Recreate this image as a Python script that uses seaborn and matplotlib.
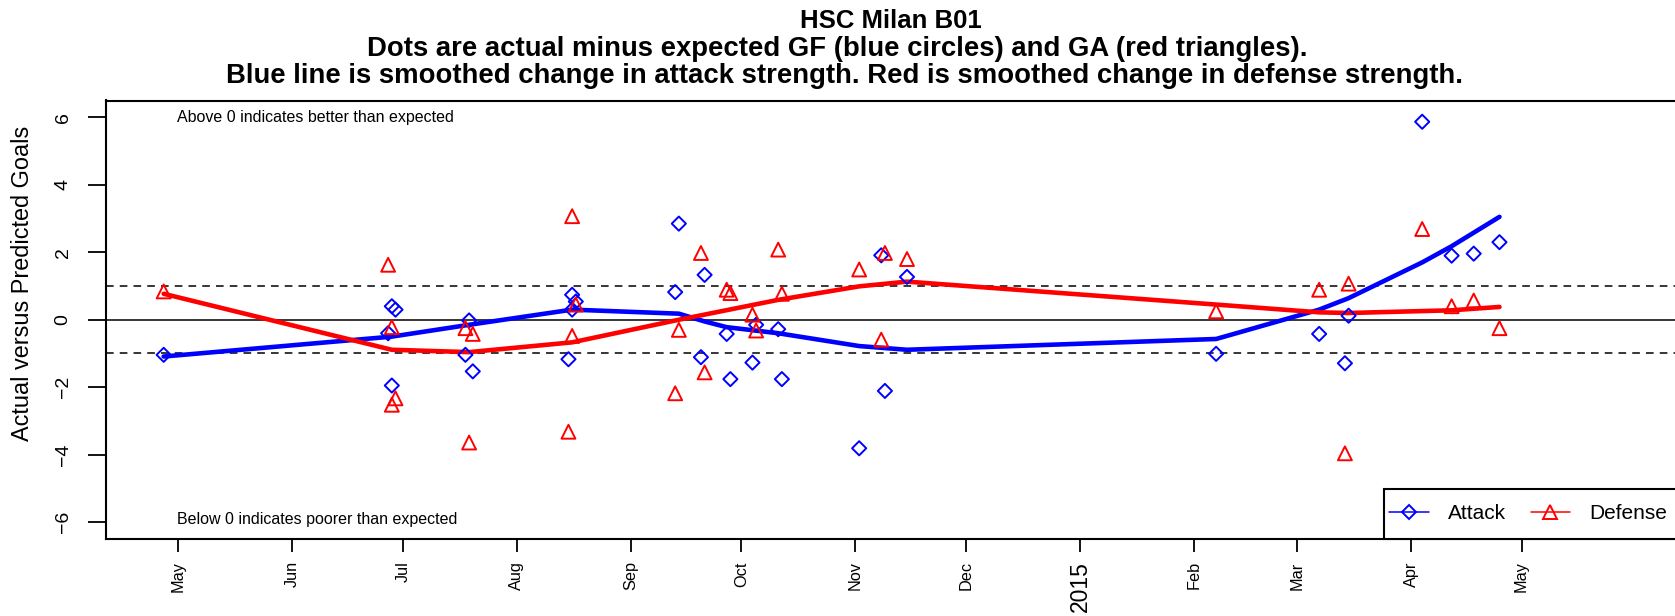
import pandas as pd
import seaborn as sns
import matplotlib.pyplot as plt
from matplotlib.lines import Line2D
from matplotlib.patches import Rectangle

# actual minus expected goals for (attack) and against (defense), per game
attack_dates = ["2014-04-27", "2014-06-28", "2014-06-29", "2014-06-27", "2014-06-28",
                "2014-07-19", "2014-07-18", "2014-07-20", "2014-08-16", "2014-08-17",
                "2014-08-16", "2014-08-15", "2014-09-14", "2014-09-13", "2014-09-21",
                "2014-09-20", "2014-09-27", "2014-09-28", "2014-10-05", "2014-10-04",
                "2014-10-11", "2014-10-12", "2014-11-02", "2014-11-08", "2014-11-09",
                "2014-11-15", "2015-02-07", "2015-03-07", "2015-03-15", "2015-03-14",
                "2015-04-04", "2015-04-12", "2015-04-18", "2015-04-25"]
attack_vals = [-1.04, 0.40, 0.30, -0.40, -1.95,
               -0.02, -1.04, -1.53, 0.74, 0.54,
               0.30, -1.17, 2.85, 0.82, 1.33,
               -1.11, -0.42, -1.76, -0.15, -1.27,
               -0.28, -1.76, -3.81, 1.91, -2.11,
               1.27, -1.01, -0.42, 0.12, -1.29,
               5.87, 1.90, 1.96, 2.30]

defense_dates = ["2014-04-27", "2014-06-27", "2014-06-28", "2014-06-29", "2014-06-28",
                 "2014-07-18", "2014-07-20", "2014-07-19", "2014-08-16", "2014-08-17",
                 "2014-08-16", "2014-08-15", "2014-09-14", "2014-09-13", "2014-09-20",
                 "2014-09-21", "2014-09-27", "2014-09-28", "2014-10-04", "2014-10-05",
                 "2014-10-11", "2014-10-12", "2014-11-02", "2014-11-09", "2014-11-08",
                 "2014-11-15", "2015-02-07", "2015-03-07", "2015-03-15", "2015-03-14",
                 "2015-04-04", "2015-04-12", "2015-04-18", "2015-04-25"]
defense_vals = [0.84, 1.63, -0.22, -2.33, -2.52,
                -0.25, -0.42, -3.64, 3.07, 0.45,
                -0.48, -3.32, -0.30, -2.18, 1.98,
                -1.56, 0.89, 0.79, 0.15, -0.32,
                2.08, 0.77, 1.49, 1.98, -0.59,
                1.80, 0.25, 0.89, 1.07, -3.96,
                2.69, 0.40, 0.57, -0.25]

# smoothed strength changes
att_line_dates = ["2014-04-27", "2014-06-28", "2014-07-19", "2014-08-16", "2014-09-14",
                  "2014-09-21", "2014-09-27", "2014-10-11", "2014-11-02", "2014-11-15",
                  "2015-02-07", "2015-03-07", "2015-03-15", "2015-04-04", "2015-04-12",
                  "2015-04-25"]
att_line_vals = [-1.09, -0.50, -0.15, 0.30, 0.18,
                 -0.05, -0.22, -0.40, -0.78, -0.89,
                 -0.57, 0.30, 0.64, 1.70, 2.18,
                 3.05]
def_line_dates = ["2014-04-27", "2014-06-28", "2014-07-19", "2014-08-16", "2014-09-14",
                  "2014-10-11", "2014-11-02", "2014-11-15", "2015-02-07", "2015-03-07",
                  "2015-03-15", "2015-04-12", "2015-04-25"]
def_line_vals = [0.77, -0.89, -0.96, -0.67, 0.0,
                 0.59, 0.99, 1.13, 0.45, 0.22,
                 0.20, 0.28, 0.38]

month_ticks = ["2014-05-01", "2014-06-01", "2014-07-01", "2014-08-01", "2014-09-01",
               "2014-10-01", "2014-11-01", "2014-12-01", "2015-01-01", "2015-02-01",
               "2015-03-01", "2015-04-01", "2015-05-01"]
month_labels = ["May", "Jun", "Jul", "Aug", "Sep", "Oct", "Nov", "Dec", "2015",
                "Feb", "Mar", "Apr", "May"]

attack = pd.DataFrame({"date": pd.to_datetime(attack_dates), "val": attack_vals})
defense = pd.DataFrame({"date": pd.to_datetime(defense_dates), "val": defense_vals})
att_line = pd.DataFrame({"date": pd.to_datetime(att_line_dates), "val": att_line_vals})
def_line = pd.DataFrame({"date": pd.to_datetime(def_line_dates), "val": def_line_vals})

sns.set_theme(style="ticks")
plt.rcParams["font.family"] = ["Liberation Sans", "DejaVu Sans"]
plt.rcParams["text.color"] = "black"
plt.rcParams["axes.labelcolor"] = "black"
plt.rcParams["xtick.color"] = "black"
plt.rcParams["ytick.color"] = "black"

fig = plt.figure(figsize=(16.75, 6.16), dpi=100)
ax = fig.add_axes([106 / 1675, 77 / 616, 1 - 106 / 1675, 438.5 / 616])

ax.axhline(0, color="black", lw=1.1, zorder=1)
ax.axhline(1, color="black", lw=1.1, ls=(0, (5, 4)), zorder=1)
ax.axhline(-1, color="black", lw=1.1, ls=(0, (5, 4)), zorder=1)

sns.lineplot(data=att_line, x="date", y="val", color="blue", lw=3.3, estimator=None, ax=ax, zorder=3)
sns.lineplot(data=def_line, x="date", y="val", color="red", lw=3.3, estimator=None, ax=ax, zorder=3)
sns.scatterplot(data=attack, x="date", y="val", marker="D", s=52, facecolor="none",
                edgecolor="blue", linewidth=1.4, ax=ax, zorder=4)
sns.scatterplot(data=defense, x="date", y="val", marker="^", s=100, facecolor="none",
                edgecolor="red", linewidth=1.4, ax=ax, zorder=4)

start = pd.Timestamp("2014-05-01")
ax.set_xlim(start - pd.Timedelta(days=19.67), start + pd.Timedelta(days=406.7))
ax.set_ylim(-6.5, 6.5)

ax.set_xticks(pd.to_datetime(month_ticks))
ax.set_xticklabels(month_labels, rotation=90, fontsize=11.7)
for lab in ax.get_xticklabels():
    if lab.get_text() == "2015":
        lab.set_fontsize(16.5)
ax.set_yticks([-6, -4, -2, 0, 2, 4, 6])
ax.set_yticklabels(["\u22126", "\u22124", "\u22122", "0", "2", "4", "6"], rotation=90,
                   va="center", fontsize=14)
ax.tick_params(axis="x", length=9.1, width=1.3, pad=7, colors="black")
ax.tick_params(axis="y", length=12.7, width=1.3, pad=12, colors="black")

for side in ["left", "top", "bottom"]:
    ax.spines[side].set_linewidth(1.5)
    ax.spines[side].set_color("black")
ax.spines["right"].set_visible(False)

ax.set_xlabel("")
ax.set_ylabel("")
fig.text(23 / 1675, 1 - 283 / 616, "Actual versus Predicted Goals", rotation=90,
         ha="center", va="center", fontsize=16.9)

ax.text(start - pd.Timedelta(days=0.5), 6, "Above 0 indicates better than expected",
        ha="left", va="center", fontsize=11.5)
ax.text(start - pd.Timedelta(days=0.5), -5.92, "Below 0 indicates poorer than expected",
        ha="left", va="center", fontsize=11.5)

fig.text(891 / 1675, 1 - 28.3 / 616, "HSC Milan B01", ha="center", va="baseline",
         fontsize=18.5, fontweight="bold")
fig.text(837 / 1675, 1 - 56 / 616,
         "Dots are actual minus expected GF (blue circles) and GA (red triangles).",
         ha="center", va="baseline", fontsize=19.8, fontweight="bold")
fig.text(844 / 1675, 1 - 83.3 / 616,
         "Blue line is smoothed change in attack strength. Red is smoothed change in defense strength.",
         ha="center", va="baseline", fontsize=19.8, fontweight="bold")

# legend box runs off the right edge, as in the original
leg_x0 = (1384 - 106) / (1675 - 106)
ax.add_patch(Rectangle((leg_x0, 0), 0.3, 50.3 / 438.5, transform=ax.transAxes,
                       facecolor="white", edgecolor="black", lw=1.5, clip_on=False, zorder=5))
handles = [Line2D([], [], color="blue", lw=1.1, marker="D", ms=7.2, mfc="none", mew=1.4),
           Line2D([], [], color="red", lw=1.1, marker="^", ms=10, mfc="none", mew=1.4)]
leg = ax.legend(handles, ["Attack", "Defense"], ncol=2, loc="center left",
                bbox_to_anchor=(leg_x0, 25.2 / 438.5), borderaxespad=0,
                fontsize=15, handlelength=1.9, handletextpad=0.9, columnspacing=1.2,
                borderpad=0.25, frameon=False)
leg.set_zorder(6)

fig.savefig("out.png", dpi=100)
